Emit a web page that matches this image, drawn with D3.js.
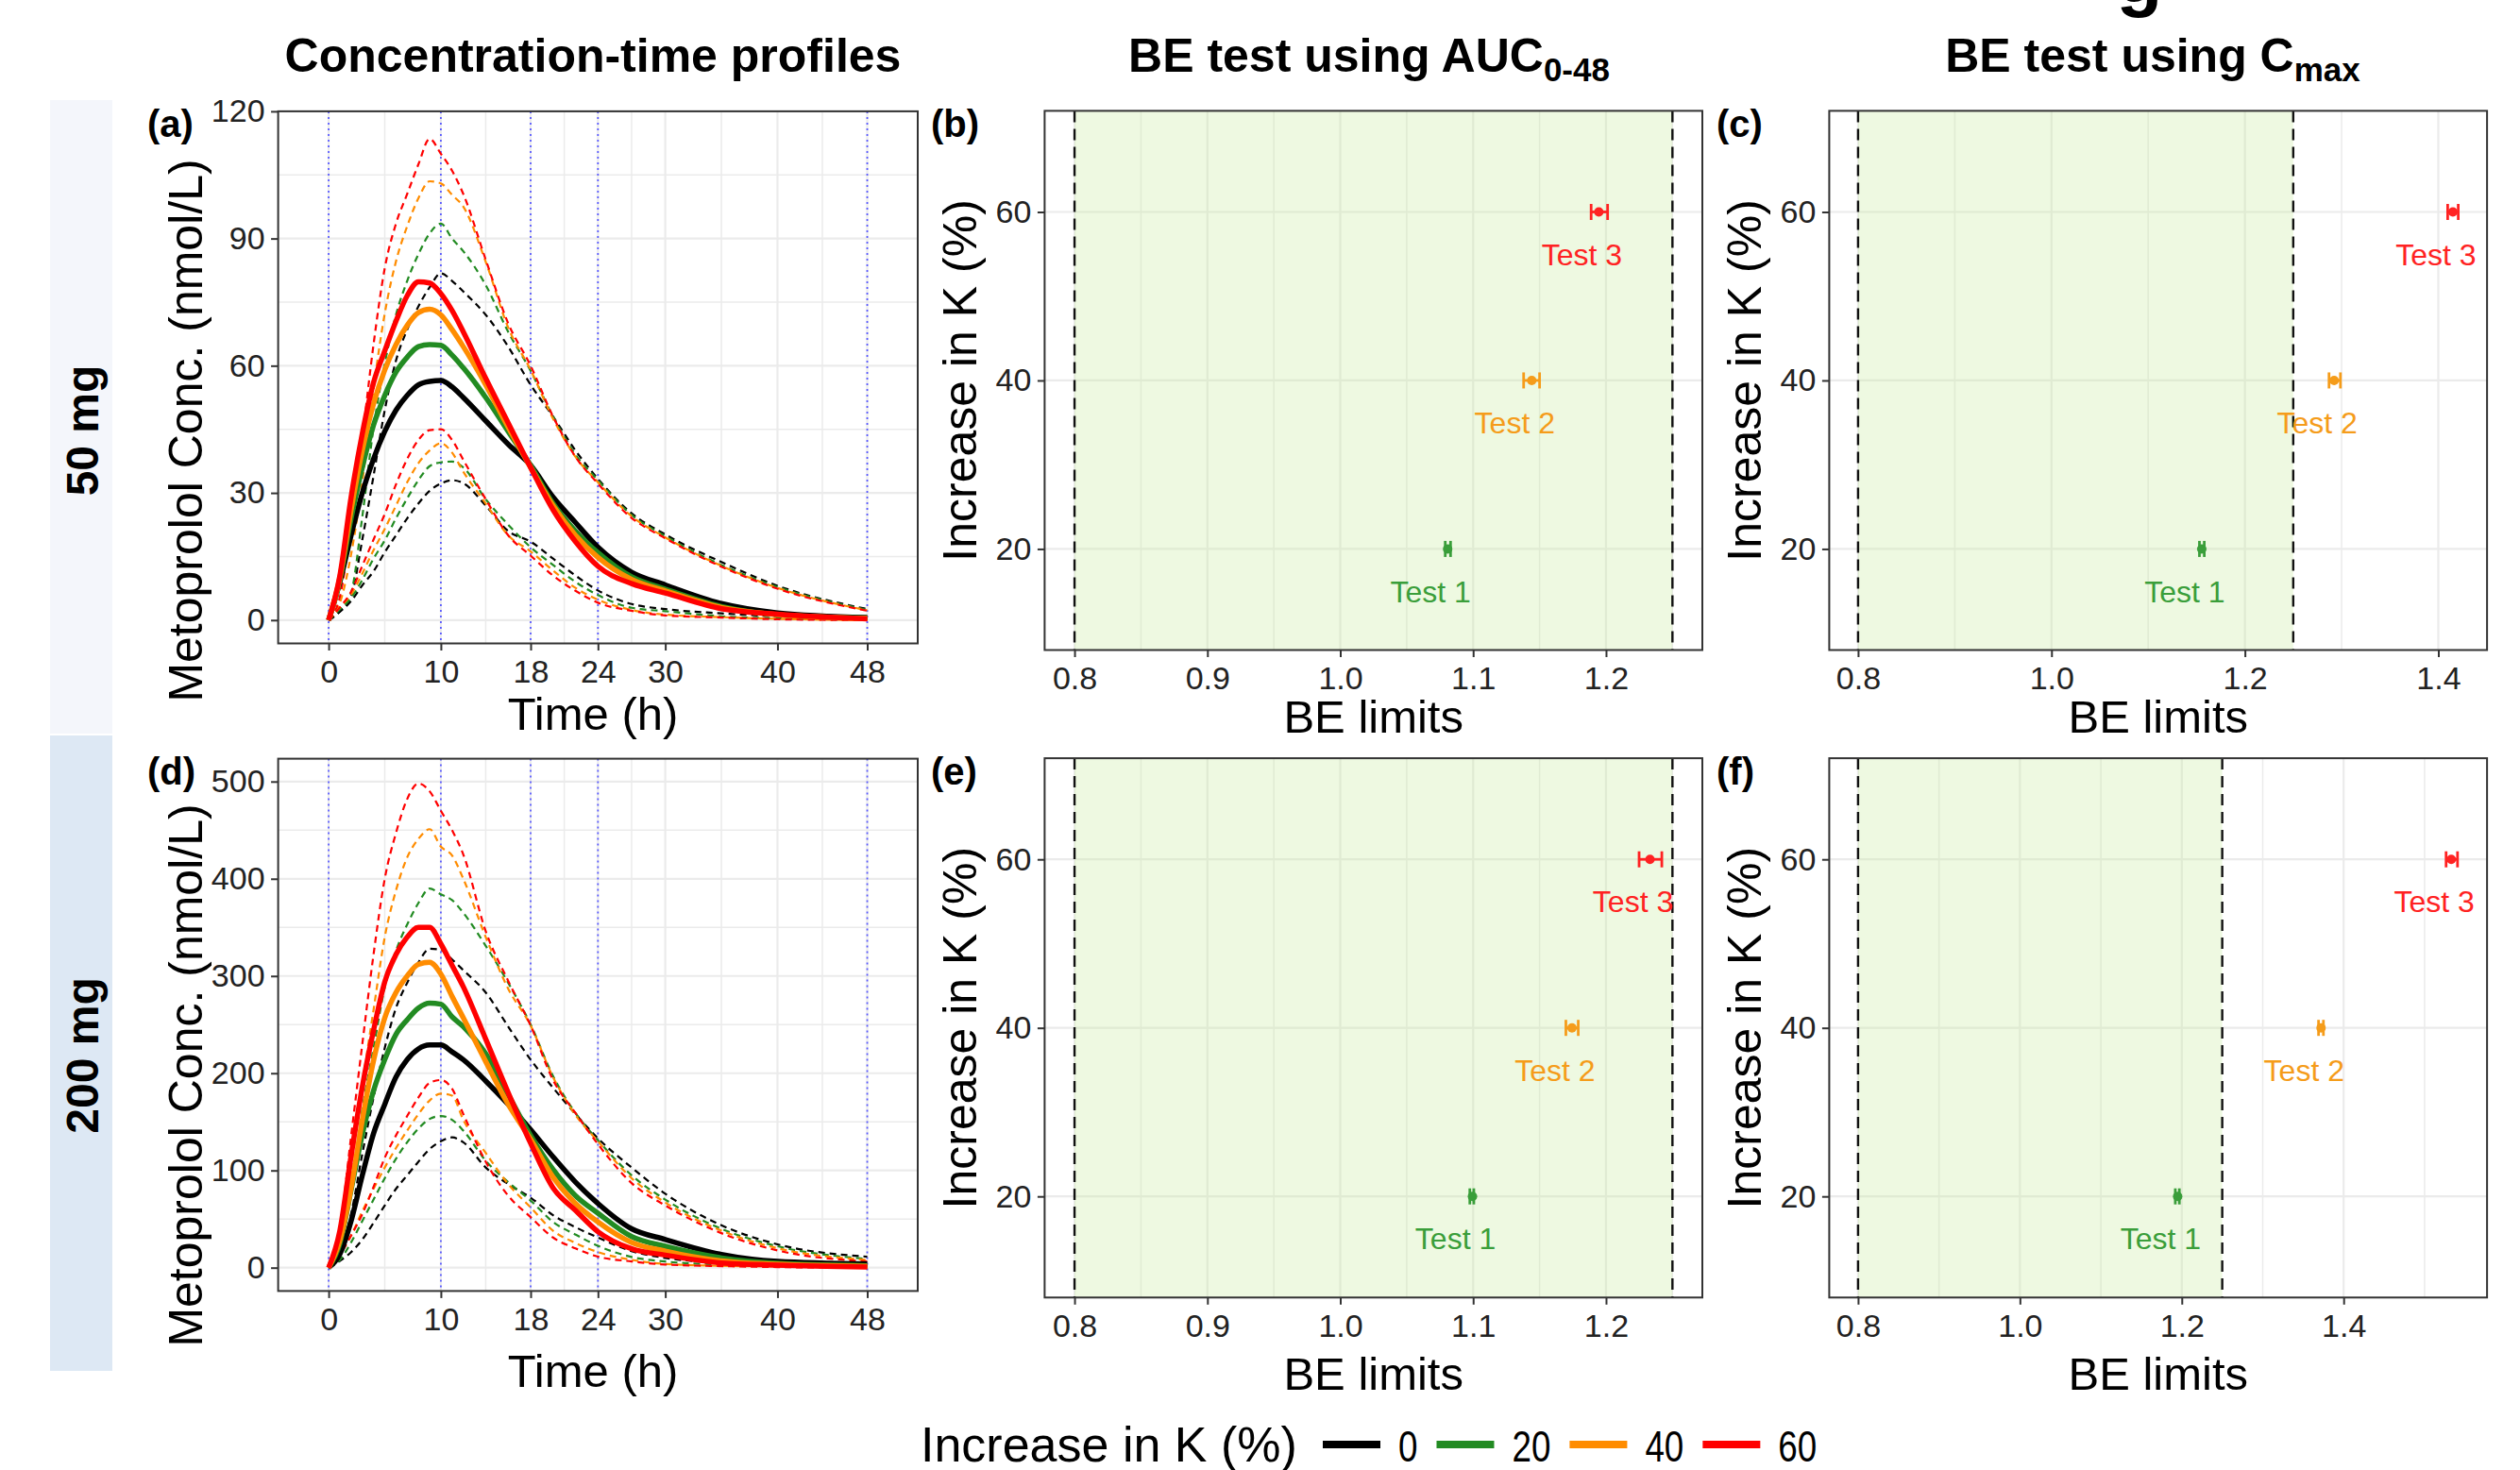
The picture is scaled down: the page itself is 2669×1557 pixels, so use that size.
<!DOCTYPE html>
<html>
<head>
<meta charset="utf-8">
<title>Metoprolol concentration profiles and BE tests</title>
<style>
  body { margin: 0; background: #fff; }
  svg { display: block; font-family: "Liberation Sans", Arial, Helvetica, sans-serif; }
</style>
</head>
<body>
<script src="https://cdn.jsdelivr.net/npm/d3@7"></script>
<script>

/*========== Data ==========*/

// sampling times (h)
const times = [0, 1, 2, 3, 4, 5, 6, 7, 8, 9, 10, 11, 12, 14, 16, 18, 20, 22, 24, 27, 30, 35, 40, 48];
const timeTicks = [0, 10, 18, 24, 30, 40, 48];
const timeMinor = [5, 14, 21, 27, 35, 44];
const timeMarks = [0, 10, 18, 24, 48];   // blue dotted guides

const kLevels = ["0", "20", "40", "60"];
const kColors = ["#000000", "#228b22", "#ff8c00", "#ff0000"];

// 50 mg : mean profiles (nmol/L), one per increase in K
const mean50_k0  = [0, 9, 20, 30, 38, 44.5, 49.5, 53, 55.5, 56.3, 56.5, 55, 52.5, 47, 41.5, 36.5, 29, 23, 17.2, 11.3, 8.3, 3.9, 1.7, 0.6];
const mean50_k20 = [0, 9.5, 24, 36, 46, 53, 58.5, 62, 64.5, 65, 64.8, 62.5, 59.5, 52.5, 44.5, 36.5, 27.5, 21, 15.9, 10.2, 7.3, 3.2, 1.3, 0.5];
const mean50_k40 = [0, 10, 26, 40, 51, 59, 65, 69.5, 72.5, 73.3, 72, 68.5, 64.5, 55.5, 45.5, 36, 27, 20, 14.8, 9.6, 6.9, 3.0, 1.3, 0.4];
const mean50_k60 = [0, 10.5, 29, 44, 56, 63.5, 70.5, 76.5, 79.8, 79.5, 77, 73, 68, 57, 46.5, 36, 26, 18.5, 12.7, 8.6, 6.4, 2.7, 1.4, 0.3];
// 50 mg : upper bounds
const up50_k0  = [0, 2, 5.5, 19, 34, 49.5, 61.2, 68.5, 74, 78.5, 81.8, 80, 77.5, 72, 64.5, 55.5, 48, 40, 33.3, 25.2, 20.2, 13.7, 8.1, 2.6];
const up50_k20 = [0, 2.5, 6.4, 24.4, 45.3, 60.5, 72, 80, 86.3, 91.2, 93.5, 90, 87, 79, 68, 58.8, 48, 39, 33, 24.8, 19.8, 13, 7.8, 2.4];
const up50_k40 = [0, 4, 15.5, 32.6, 54.5, 72.3, 84.6, 92.9, 99.5, 103.5, 103, 100.3, 97.5, 84.5, 69, 59, 47.5, 38.5, 32.5, 24.5, 19.5, 12.8, 7.6, 2.3];
const up50_k60 = [0, 5.5, 22.5, 43, 65, 83, 93.5, 100.5, 107.5, 113.5, 110, 106, 100.5, 85, 70, 60, 48, 38.5, 32.2, 24.1, 19.3, 12.6, 7.4, 2.2];
// 50 mg : lower bounds
const lo50_k0  = [0, 2, 4.5, 8.2, 11.5, 16, 20, 24, 27.5, 30.5, 32.2, 33, 32.3, 27, 21, 18.5, 14.5, 10.5, 7.0, 3.8, 2.6, 1.6, 0.9, 0.4];
const lo50_k20 = [0, 2.5, 5.2, 9.5, 14.5, 18.8, 24, 28.7, 33, 36.3, 37.2, 37.4, 36, 28.5, 22.5, 17.2, 13, 9, 5.9, 2.9, 2.1, 0.9, 0.4, 0.1];
const lo50_k40 = [0, 3, 6, 11, 16.5, 21.5, 27, 32.5, 37, 40, 41.7, 39.5, 35, 27.5, 20, 16.2, 11.7, 7.6, 4.8, 2.4, 1.3, 0.7, 0.3, 0];
const lo50_k60 = [0, 3, 6.7, 12.8, 19, 25, 32, 38, 42.5, 44.8, 45, 42.5, 37.8, 28.5, 20, 15.2, 10.5, 6.9, 4.1, 2.2, 1.1, 0.6, 0.2, 0];

// 200 mg : mean profiles
const mean200_k0  = [0, 14, 48, 95, 138, 168, 196, 214, 225, 229, 229, 222, 214, 192, 168, 142, 114, 88, 66, 40, 29, 13.6, 6.5, 3.9];
const mean200_k20 = [0, 25, 80, 137, 182, 214, 240, 255, 267, 272, 271, 258, 248, 220, 178, 136, 101, 74, 56, 32, 22, 10, 4.5, 2];
const mean200_k40 = [0, 28, 82, 152, 213, 257, 283, 300, 312, 314, 302, 279, 257, 212, 168, 132, 93, 66, 47, 26, 17, 7, 3.5, 1.3];
const mean200_k60 = [0, 38, 115, 186, 244, 294, 322, 340, 350, 350, 333, 311, 289, 235, 180, 128, 82, 59, 37, 19.4, 12.9, 4.9, 2.6, 0.6];
// 200 mg : upper bounds
const up200_k0  = [0, 15, 55, 117, 175, 226, 267, 293, 314, 328, 327, 317, 306, 283, 248, 214, 185, 158, 133, 103, 76, 43.6, 24, 11.3];
const up200_k20 = [0, 20, 80, 163, 226, 288, 326, 353, 375, 390, 384, 378, 365, 331, 293, 250, 197, 159, 131, 95, 70, 40, 22, 9];
const up200_k40 = [0, 25, 102, 188, 265, 340, 388, 422, 441, 451, 433, 424, 400, 340, 287, 249, 196, 157, 130, 92, 67, 38, 20, 8];
const up200_k60 = [0, 40, 135, 230, 322, 400, 447, 482, 498, 490, 470, 450, 425, 346, 295, 249, 193, 159, 127, 87, 64, 35.5, 17.7, 6.4];
// 200 mg : lower bounds
const lo200_k0  = [0, 7, 16, 29, 46, 64, 81, 95, 109, 122, 130, 134, 129, 103, 86, 72, 54, 41.6, 31, 17, 10, 5, 2.6, 1.6];
const lo200_k20 = [0, 8, 26, 48, 70, 92, 112, 129, 143, 153, 156, 152, 141, 110, 88, 69, 47, 34, 22.5, 11, 6.3, 3.2, 1.9, 1];
const lo200_k40 = [0, 14, 33, 58, 81, 103, 123, 141, 158, 172, 179, 177, 152, 118, 86, 62, 38, 25.4, 16, 8, 3.8, 1.9, 1.3, 0.6];
const lo200_k60 = [0, 13, 33, 55, 83, 113, 136, 156, 175, 190, 193, 184, 158, 109, 74, 52, 31, 19.8, 11.3, 6.4, 3.2, 1.6, 0.6, 0];

// BE tests (test/reference ratio with CI)
const testNames  = ["Test 1", "Test 2", "Test 3"];
const testK      = [20, 40, 60];
const testColors = ["#3a9e3a", "#f59c1a", "#ff2222"];
const beLimits   = [0.8, 1.25];

const auc50_est  = [1.0808, 1.1441, 1.1946];
const auc50_lo   = [1.0790, 1.1380, 1.1888];
const auc50_hi   = [1.0830, 1.1500, 1.2012];
const cmax50_est = [1.1554, 1.2923, 1.4151];
const cmax50_lo  = [1.1530, 1.2870, 1.4097];
const cmax50_hi  = [1.1580, 1.2988, 1.4206];
const auc200_est = [1.0995, 1.1744, 1.2331];
const auc200_lo  = [1.0975, 1.1698, 1.2249];
const auc200_hi  = [1.1005, 1.1791, 1.2420];
const cmax200_est = [1.1949, 1.3721, 1.5330];
const cmax200_lo  = [1.1920, 1.3690, 1.5266];
const cmax200_hi  = [1.1970, 1.3750, 1.5407];

/*========== Zones ==========*/
const W = 2669, H = 1557;
const FONT = '"Liberation Sans", Arial, Helvetica, sans-serif';
const GRID = "#ebebeb";

const boxA = {x0: 294.6, x1: 972, y0: 117.9, y1: 681.5};
const boxD = {x0: 294.6, x1: 972, y0: 803.6, y1: 1367.4};
const boxB = {x0: 1106.4, x1: 1803, y0: 117.4, y1: 688.5};
const boxE = {x0: 1106.4, x1: 1803, y0: 803.1, y1: 1374.3};
const boxC = {x0: 1937.4, x1: 2634.1, y0: 117.4, y1: 688.5};
const boxF = {x0: 1937.4, x1: 2634.1, y0: 803.1, y1: 1374.3};

const svg = d3.select("body").append("svg")
    .attr("width", W)
    .attr("height", H);

svg.append("rect").attr("width", W).attr("height", H).attr("fill", "#fff");

// dose strips on the left
svg.append("rect").attr("x", 53).attr("y", 106).attr("width", 66).attr("height", 671).attr("fill", "#f4f6fb");
svg.append("rect").attr("x", 53).attr("y", 779).attr("width", 66).attr("height", 673).attr("fill", "#dde8f4");
svg.append("text")
    .attr("transform", "translate(104,456) rotate(-90)")
    .attr("text-anchor", "middle")
    .style("font-weight", "bold").style("font-size", "48px")
  .text("50 mg");
svg.append("text")
    .attr("transform", "translate(104,1118) rotate(-90)")
    .attr("text-anchor", "middle")
    .style("font-weight", "bold").style("font-size", "48px")
  .text("200 mg");

// column titles
svg.append("text")
    .attr("x", 628).attr("y", 76)
    .attr("text-anchor", "middle")
    .style("font-weight", "bold").style("font-size", "50px")
  .text("Concentration-time profiles");

function subTitle(cx, main, sub) {
  const t = svg.append("text")
      .attr("x", cx).attr("y", 76)
      .attr("text-anchor", "middle")
      .style("font-weight", "bold").style("font-size", "50px");
  t.append("tspan").text(main);
  t.append("tspan").attr("dy", 10).style("font-size", "35px").text(sub);
}
subTitle(1450, "BE test using AUC", "0-48");
subTitle(2280, "BE test using C", "max");

// piece of a cut-off heading above the figure
svg.append("text")
    .attr("x", 2266).attr("y", 2)
    .attr("text-anchor", "middle")
    .style("font-weight", "bold").style("font-size", "80px")
  .text("g");

/*========== Helpers ==========*/

function styleAxis(ax) {
  ax.attr("font-family", FONT).attr("font-size", 34);
  ax.select(".domain").remove();
  ax.selectAll(".tick line").attr("stroke", "#333").attr("stroke-width", 2);
  ax.selectAll(".tick text").attr("fill", "#222");
}

function gridLines(g, box, x, y, xMaj, xMin, yMaj, yMin) {
  const gl = g.append("g");
  gl.selectAll(".xmin").data(xMin).join("line")
      .attr("x1", d => x(d)).attr("x2", d => x(d))
      .attr("y1", box.y0).attr("y2", box.y1)
      .attr("stroke", GRID).attr("stroke-width", 1.5);
  gl.selectAll(".ymin").data(yMin).join("line")
      .attr("y1", d => y(d)).attr("y2", d => y(d))
      .attr("x1", box.x0).attr("x2", box.x1)
      .attr("stroke", GRID).attr("stroke-width", 1.5);
  gl.selectAll(".xmaj").data(xMaj).join("line")
      .attr("x1", d => x(d)).attr("x2", d => x(d))
      .attr("y1", box.y0).attr("y2", box.y1)
      .attr("stroke", GRID).attr("stroke-width", 2.2);
  gl.selectAll(".ymaj").data(yMaj).join("line")
      .attr("y1", d => y(d)).attr("y2", d => y(d))
      .attr("x1", box.x0).attr("x2", box.x1)
      .attr("stroke", GRID).attr("stroke-width", 2.2);
}

function border(g, box) {
  g.append("rect")
      .attr("x", box.x0).attr("y", box.y0)
      .attr("width", box.x1 - box.x0).attr("height", box.y1 - box.y0)
      .attr("fill", "none").attr("stroke", "#333").attr("stroke-width", 2);
}

function tag(x, y, s) {
  svg.append("text").attr("x", x).attr("y", y)
      .style("font-weight", "bold").style("font-size", "40px")
    .text(s);
}

/*========== Concentration panels ==========*/

function concPanel(box, yDomain, yTicks, yMinor, means, ups, lows, yTitleY, xTitleY) {
  const g = svg.append("g");
  const x = d3.scaleLinear().domain([-4.5, 52.5]).range([box.x0, box.x1]);
  const y = d3.scaleLinear().domain(yDomain).range([box.y1, box.y0]);

  gridLines(g, box, x, y, timeTicks, timeMinor, yTicks, yMinor);

  g.selectAll(".guide").data(timeMarks).join("line")
      .attr("x1", d => x(d)).attr("x2", d => x(d))
      .attr("y1", box.y0).attr("y2", box.y1)
      .attr("stroke", "#5a5aff").attr("stroke-width", 1.8)
      .attr("stroke-dasharray", "2,4");

  const line = d3.line()
      .x((d, i) => x(times[i]))
      .y(d => y(d))
      .curve(d3.curveMonotoneX);

  // dashed bounds
  [...ups, ...lows].forEach((s, j) => {
    g.append("path").datum(s)
        .attr("d", line)
        .attr("fill", "none")
        .attr("stroke", kColors[j % 4])
        .attr("stroke-width", 2.2)
        .attr("stroke-dasharray", "7,5");
  });
  // mean lines
  means.forEach((s, j) => {
    g.append("path").datum(s)
        .attr("d", line)
        .attr("fill", "none")
        .attr("stroke", kColors[j])
        .attr("stroke-width", 5.5)
        .attr("stroke-linejoin", "round");
  });

  border(g, box);

  const ax = g.append("g")
      .attr("transform", `translate(0,${box.y1})`)
      .call(d3.axisBottom(x).tickValues(timeTicks).tickSize(7.5).tickPadding(10).tickFormat(d3.format("d")));
  styleAxis(ax);
  const ay = g.append("g")
      .attr("transform", `translate(${box.x0},0)`)
      .call(d3.axisLeft(y).tickValues(yTicks).tickSize(7.5).tickPadding(6.5).tickFormat(d3.format("d")));
  styleAxis(ay);

  g.append("text")
      .attr("x", 628).attr("y", xTitleY)
      .attr("text-anchor", "middle")
      .style("font-size", "49px")
    .text("Time (h)");
  g.append("text")
      .attr("transform", `translate(213.6,${yTitleY}) rotate(-90)`)
      .attr("text-anchor", "middle")
      .style("font-size", "50px")
    .text("Metoprolol Conc. (nmol/L)");
}

concPanel(boxA, [-5.5, 120], [0, 30, 60, 90, 120], [15, 45, 75, 105],
  [mean50_k0, mean50_k20, mean50_k40, mean50_k60],
  [up50_k0, up50_k20, up50_k40, up50_k60],
  [lo50_k0, lo50_k20, lo50_k40, lo50_k60], 456, 773);

concPanel(boxD, [-24, 523.5], [0, 100, 200, 300, 400, 500], [50, 150, 250, 350, 450],
  [mean200_k0, mean200_k20, mean200_k40, mean200_k60],
  [up200_k0, up200_k20, up200_k40, up200_k60],
  [lo200_k0, lo200_k20, lo200_k40, lo200_k60], 1139, 1469);

/*========== BE panels ==========*/

function bePanel(box, xDomain, xTicks, xMinor, est, lo, hi, yTitleX, xTitleY) {
  const g = svg.append("g");
  const x = d3.scaleLinear().domain(xDomain).range([box.x0, box.x1]);
  const y = d3.scaleLinear().domain([8, 72]).range([box.y1, box.y0]);

  gridLines(g, box, x, y, xTicks, xMinor, testK, []);

  // acceptance region
  g.append("rect")
      .attr("x", x(beLimits[0])).attr("y", box.y0)
      .attr("width", x(beLimits[1]) - x(beLimits[0]))
      .attr("height", box.y1 - box.y0)
      .attr("fill", "#c8ec9a").attr("fill-opacity", 0.3);

  g.selectAll(".lim").data(beLimits).join("line")
      .attr("x1", d => x(d)).attr("x2", d => x(d))
      .attr("y1", box.y0).attr("y2", box.y1)
      .attr("stroke", "#111").attr("stroke-width", 2.4)
      .attr("stroke-dasharray", "12,7");

  const rows = testNames.map((n, i) => ({n, k: testK[i], e: est[i], l: lo[i], h: hi[i], c: testColors[i]}));
  const gr = g.selectAll(".test").data(rows).join("g");
  gr.append("line")
      .attr("x1", d => x(d.l)).attr("x2", d => x(d.h))
      .attr("y1", d => y(d.k)).attr("y2", d => y(d.k))
      .attr("stroke", d => d.c).attr("stroke-width", 2.8);
  gr.append("line")
      .attr("x1", d => x(d.l)).attr("x2", d => x(d.l))
      .attr("y1", d => y(d.k) - 8.5).attr("y2", d => y(d.k) + 8.5)
      .attr("stroke", d => d.c).attr("stroke-width", 2.8);
  gr.append("line")
      .attr("x1", d => x(d.h)).attr("x2", d => x(d.h))
      .attr("y1", d => y(d.k) - 8.5).attr("y2", d => y(d.k) + 8.5)
      .attr("stroke", d => d.c).attr("stroke-width", 2.8);
  gr.append("circle")
      .attr("cx", d => x(d.e)).attr("cy", d => y(d.k))
      .attr("r", 5).attr("fill", d => d.c);
  gr.append("text")
      .attr("x", d => x(d.e) - 18).attr("y", d => y(d.k - 5))
      .attr("dy", "0.36em")
      .attr("text-anchor", "middle")
      .attr("fill", d => d.c)
      .style("font-size", "32px")
    .text(d => d.n);

  border(g, box);

  const ax = g.append("g")
      .attr("transform", `translate(0,${box.y1})`)
      .call(d3.axisBottom(x).tickValues(xTicks).tickSize(7.5).tickPadding(10).tickFormat(d3.format(".1f")));
  styleAxis(ax);
  const ay = g.append("g")
      .attr("transform", `translate(${box.x0},0)`)
      .call(d3.axisLeft(y).tickValues(testK).tickSize(7.5).tickPadding(6.5).tickFormat(d3.format("d")));
  styleAxis(ay);

  g.append("text")
      .attr("x", (box.x0 + box.x1) / 2).attr("y", xTitleY)
      .attr("text-anchor", "middle")
      .style("font-size", "49px")
    .text("BE limits");
  g.append("text")
      .attr("transform", `translate(${yTitleX},${(box.y0 + box.y1) / 2}) rotate(-90)`)
      .attr("text-anchor", "middle")
      .style("font-size", "50px")
    .text("Increase in K (%)");
}

bePanel(boxB, [0.7775, 1.2725], [0.8, 0.9, 1.0, 1.1, 1.2], [0.85, 0.95, 1.05, 1.15, 1.25],
  auc50_est, auc50_lo, auc50_hi, 1034, 776);
bePanel(boxC, [0.7702, 1.4504], [0.8, 1.0, 1.2, 1.4], [0.9, 1.1, 1.3],
  cmax50_est, cmax50_lo, cmax50_hi, 1865, 776);
bePanel(boxE, [0.7775, 1.2725], [0.8, 0.9, 1.0, 1.1, 1.2], [0.85, 0.95, 1.05, 1.15, 1.25],
  auc200_est, auc200_lo, auc200_hi, 1034, 1472);
bePanel(boxF, [0.7644, 1.5772], [0.8, 1.0, 1.2, 1.4], [0.9, 1.1, 1.3, 1.5],
  cmax200_est, cmax200_lo, cmax200_hi, 1865, 1472);

// panel tags
tag(156, 145, "(a)");
tag(986, 145, "(b)");
tag(1818, 145, "(c)");
tag(156, 831, "(d)");
tag(986, 831, "(e)");
tag(1818, 831, "(f)");

/*========== Legend ==========*/
const leg = svg.append("g");
leg.append("text")
    .attr("x", 975).attr("y", 1548)
    .style("font-size", "52px")
  .text("Increase in K (%)");
let lx = 1401;
kLevels.forEach((k, i) => {
  leg.append("line")
      .attr("x1", lx).attr("x2", lx + 61)
      .attr("y1", 1530).attr("y2", 1530)
      .attr("stroke", kColors[i]).attr("stroke-width", 8);
  const t = leg.append("text")
      .attr("x", lx + 80).attr("y", 1548)
      .style("font-size", "46px")
    .text(k);
  // labels are set a little narrower than the title, as in the source figure
  const w = t.node().getComputedTextLength() * 0.8;
  t.attr("textLength", w).attr("lengthAdjust", "spacingAndGlyphs");
  lx = lx + 80 + w + 20;
});

</script>
</body>
</html>
